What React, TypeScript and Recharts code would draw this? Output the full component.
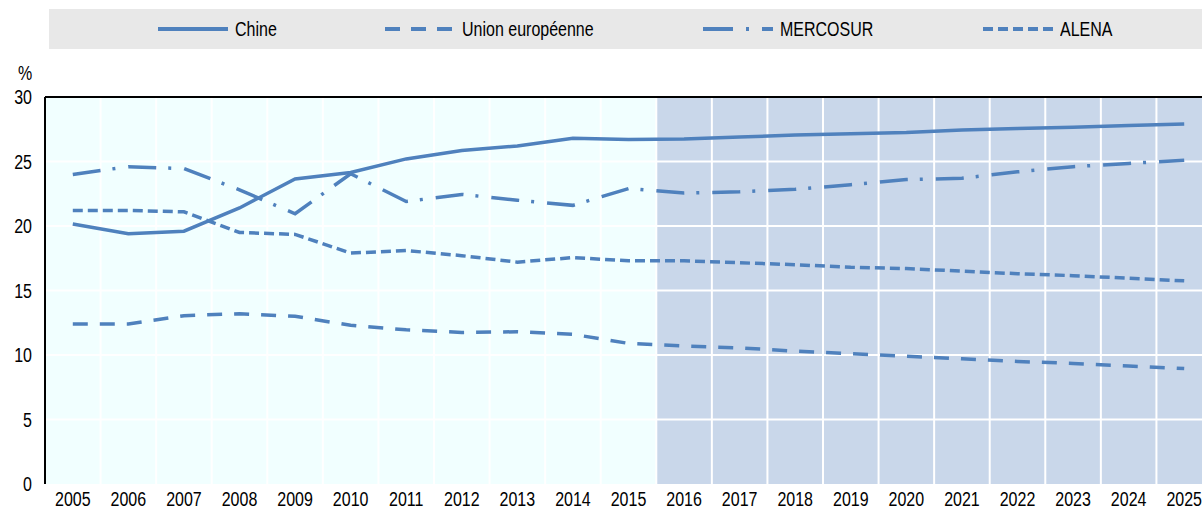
import { LineChart, Line, XAxis, YAxis, ReferenceArea, ReferenceLine } from 'recharts'

const YEARS = [2005, 2006, 2007, 2008, 2009, 2010, 2011, 2012, 2013, 2014, 2015, 2016, 2017, 2018, 2019, 2020, 2021, 2022, 2023, 2024, 2025]
const CHINE = [20.15, 19.4, 19.6, 21.4, 23.65, 24.15, 25.2, 25.85, 26.2, 26.8, 26.7, 26.75, 26.9, 27.05, 27.15, 27.25, 27.45, 27.55, 27.65, 27.8, 27.9]
const UE = [12.4, 12.4, 13.05, 13.2, 13.0, 12.3, 11.95, 11.75, 11.8, 11.6, 10.9, 10.7, 10.55, 10.3, 10.1, 9.9, 9.7, 9.5, 9.35, 9.15, 8.95]
const MERCOSUR = [24.0, 24.6, 24.45, 22.8, 20.95, 24.05, 21.9, 22.45, 22.0, 21.6, 22.9, 22.55, 22.65, 22.85, 23.2, 23.6, 23.7, 24.2, 24.6, 24.85, 25.1]
const ALENA = [21.2, 21.2, 21.1, 19.5, 19.35, 17.9, 18.1, 17.7, 17.2, 17.55, 17.3, 17.3, 17.15, 17.0, 16.8, 16.7, 16.5, 16.3, 16.15, 15.95, 15.75]
const Y_TICKS = [0, 5, 10, 15, 20, 25, 30]
const PROJ_START = 2015.5

const SERIES = [
  { key: 'Chine', label: 'Chine', dash: undefined as string | undefined, legendDash: undefined as string | undefined },
  { key: 'UE', label: 'Union européenne', dash: '15 12', legendDash: '15 11' },
  { key: 'MERCOSUR', label: 'MERCOSUR', dash: '28 12 3 13', legendDash: '30 13 3 13' },
  { key: 'ALENA', label: 'ALENA', dash: '10 5', legendDash: '10 5' },
]
// left edge of each legend entry
const LEGEND_X = [158, 385, 703, 983]

const data = YEARS.map((year, i) => ({
  year,
  Chine: CHINE[i],
  UE: UE[i],
  MERCOSUR: MERCOSUR[i],
  ALENA: ALENA[i],
}))

// band edges (tick marks + vertical grid)
const EDGES = [YEARS[0] - 0.5, ...YEARS.map(y => y + 0.5)]

const BLUE = '#4f81bd'
const FONT = '"Liberation Sans", Arial, sans-serif'
const SQUEEZE = 0.8 // narrow font look

const XTick = ({ x, y, payload }: any) => (
  <text transform={`translate(${x},${y}) scale(${SQUEEZE},1)`} textAnchor="middle" dy="0.71em"
    fontSize={20} fontFamily={FONT} fill="#000">{payload.value}</text>
)

const YTick = ({ x, y, payload }: any) => (
  <text transform={`translate(${x},${y}) scale(${SQUEEZE},1)`} textAnchor="end" dy="0.355em"
    fontSize={20} fontFamily={FONT} fill="#000">{payload.value}</text>
)

const narrow = { display: 'inline-block', transform: `scaleX(${SQUEEZE})`, transformOrigin: 'left center', whiteSpace: 'nowrap' as const }

export default function App() {
  return (
    <div style={{ position: 'fixed', left: 0, top: 0, width: 1202, height: 510, overflow: 'hidden', background: '#fff', fontFamily: FONT }}>
      {/* legend */}
      <div style={{ position: 'absolute', left: 49, top: 9, width: 1153, height: 40, background: '#e8e8e8' }} />
      {SERIES.map((s, i) => (
        <div key={s.key} style={{ position: 'absolute', left: LEGEND_X[i], top: 9, height: 40, display: 'flex', alignItems: 'center' }}>
          <svg width={70} height={8} style={{ marginRight: 7 }}>
            <line x1={0} y1={4} x2={70} y2={4} stroke={BLUE} strokeWidth={4} strokeDasharray={s.legendDash} />
          </svg>
          <span style={{ ...narrow, fontSize: 20, color: '#000' }}>{s.label}</span>
        </div>
      ))}
      <div style={{ position: 'absolute', left: 18, top: 62, fontSize: 20, ...narrow }}>%</div>

      <LineChart width={1212} height={510} data={data} margin={{ top: 97, right: 0, bottom: 0, left: 0 }}>
        <XAxis xAxisId="edge" dataKey="year" type="number" domain={[EDGES[0], EDGES[EDGES.length - 1]]} ticks={EDGES}
          tick={false} tickSize={6} height={0} axisLine={{ stroke: '#000', strokeWidth: 2 }} tickLine={{ stroke: '#000', strokeWidth: 1.5 }} />
        <XAxis xAxisId="yr" dataKey="year" type="number" domain={[EDGES[0], EDGES[EDGES.length - 1]]} ticks={YEARS}
          interval={0} height={26} axisLine={false} tickLine={false} tickSize={0} tickMargin={7.5} tick={<XTick />} />
        <YAxis domain={[0, 30]} ticks={Y_TICKS} width={45} axisLine={{ stroke: '#000', strokeWidth: 2 }}
          tickLine={false} tickSize={0} tickMargin={13} tick={<YTick />} />

        <ReferenceArea xAxisId="yr" x1={EDGES[0]} x2={PROJ_START} fill="#f1ffff" fillOpacity={1} stroke="none" />
        <ReferenceArea xAxisId="yr" x1={PROJ_START} x2={EDGES[EDGES.length - 1]} fill="#c9d7ea" fillOpacity={1} stroke="none" />

        {Y_TICKS.slice(1, -1).map(v => (
          <ReferenceLine key={'h' + v} xAxisId="yr" y={v} stroke="#fff" strokeWidth={2} />
        ))}
        {EDGES.slice(1, -1).map(v => (
          <ReferenceLine key={'v' + v} xAxisId="yr" x={v} stroke="#fff" strokeWidth={2} />
        ))}
        <ReferenceLine xAxisId="yr" y={30} stroke="#000" strokeWidth={2} />

        {SERIES.map(s => (
          <Line key={s.key} xAxisId="yr" type="linear" dataKey={s.key} name={s.label} stroke={BLUE} strokeWidth={3.5}
            strokeDasharray={s.dash} dot={false} activeDot={false} isAnimationActive={false} />
        ))}
      </LineChart>
    </div>
  )
}
